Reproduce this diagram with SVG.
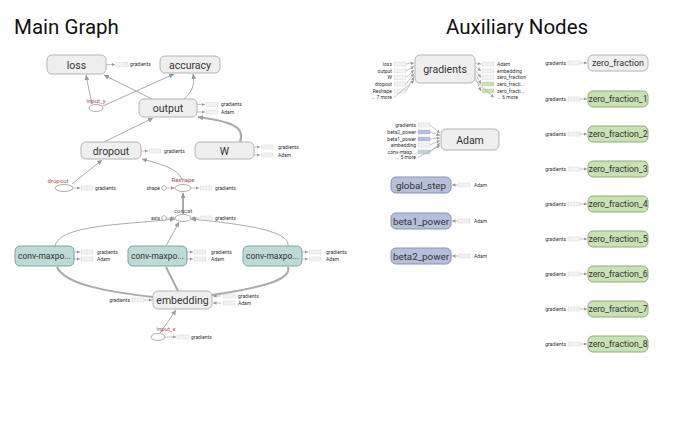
<svg xmlns="http://www.w3.org/2000/svg" width="697" height="448" viewBox="0 0 697 448">
<defs>
<marker id="a" markerWidth="6" markerHeight="6" refX="5" refY="3" orient="auto" markerUnits="userSpaceOnUse"><path d="M0,0.5 L5,3 L0,5.5 Z" fill="#999"/></marker>
<marker id="s" markerWidth="4" markerHeight="4" refX="3.5" refY="2" orient="auto" markerUnits="userSpaceOnUse"><path d="M0,0.3 L3.5,2 L0,3.7 Z" fill="#999"/></marker>
</defs>
<style>
text{font-family:Roboto,"Liberation Sans",sans-serif;}
.title{font-size:20.5px;fill:#111;}
.op{fill:#efefef;stroke:#b4b4b4;stroke-width:1;}
.teal{fill:#bcdad6;stroke:#7fa5a1;stroke-width:1;}
.blue{fill:#b6c0da;stroke:#8792b2;stroke-width:1;}
.green{fill:#c9e2b4;stroke:#90ad7d;stroke-width:1;}
.lbl{font-size:10.5px;fill:#333;text-anchor:middle;}
.lbla{font-size:9.8px;fill:#333;text-anchor:middle;}
.lblz{font-size:8.7px;fill:#333;text-anchor:middle;}
.lblc{font-size:8.5px;fill:#333;text-anchor:middle;}
.sm{font-size:5px;fill:#333;}
.sme{font-size:5px;fill:#333;text-anchor:end;}
.ph{font-size:6px;fill:#a0564c;text-anchor:middle;}
.stub{fill:#f2f2f2;stroke:#c8c8c8;stroke-width:0.6;stroke-dasharray:0.8,0.8;}
.sgreen{fill:#c9e2b4;stroke:#a5c290;stroke-width:0.6;stroke-dasharray:0.8,0.8;}
.sblue{fill:#b6c0da;stroke:#97a2c0;stroke-width:0.6;stroke-dasharray:0.8,0.8;}
.steal{fill:#bcdad6;stroke:#94bab5;stroke-width:0.6;stroke-dasharray:0.8,0.8;}
.se{stroke:#aaa;stroke-width:0.7;fill:none;}
.e{stroke:#aaa;stroke-width:1;fill:none;}
.et{stroke:#aaa;stroke-width:2;fill:none;}
.ell{fill:#fff;stroke:#999;stroke-width:0.8;}
</style>
<rect width="697" height="448" fill="#fff"/>
<text x="14" y="34" class="title">Main Graph</text>
<text x="446" y="34" class="title">Auxiliary Nodes</text>

<g id="edges">
<path class="e" d="M92,104 C90,95 88,85 86,75" marker-end="url(#a)"/>
<path class="e" d="M103,106 L174,74" marker-end="url(#a)"/>
<path class="e" d="M152,99 L104,75" marker-end="url(#a)"/>
<path class="e" d="M184,99 C192,92 195,85 193,74" marker-end="url(#a)"/>
<path class="e" d="M104,142 L153,118" marker-end="url(#a)"/>
<path class="et" d="M240,142 C245,128 235,122 198,117" marker-end="url(#a)"/>
<path class="e" d="M72,184 L102,160" marker-end="url(#a)"/>
<path class="e" d="M182,180 C178,168 160,164 142,159" marker-end="url(#a)"/>
<path class="et" d="M183,214 L183,193" marker-end="url(#a)"/>
<path class="e" d="M55,246 C60,225 120,225 175,219" marker-end="url(#a)"/>
<path class="e" d="M166,246 L179,222" marker-end="url(#a)"/>
<path class="e" d="M288,246 C290,230 240,224 191,219" marker-end="url(#a)"/>
<path class="et" d="M153,297 C110,292 65,285 57,267"/>
<path class="et" d="M178,291 L166,267"/>
<path class="et" d="M212,295 C260,288 292,280 288,267"/>
<path class="e" d="M160,333 L176,310" marker-end="url(#a)"/>
</g>

<g id="loss">
<rect x="47" y="55" width="59" height="19" rx="5" class="op"/><text x="76.5" y="68.5" class="lbl">loss</text>
<line x1="106" y1="64.5" x2="115" y2="64.5" class="se" marker-end="url(#s)"/><rect x="116" y="62.5" width="12" height="4" class="stub"/><text x="130" y="66.3" class="sm">gradients</text>
</g>
<g id="accuracy">
<rect x="160" y="56" width="60" height="17" rx="5" class="op"/><text x="190" y="68.5" class="lbl">accuracy</text>
</g>
<g id="input_y">
<ellipse cx="96" cy="108" rx="7" ry="3.5" class="ell"/><text x="96" y="103" class="ph">input_y</text>
</g>
<g id="output">
<rect x="139" y="99" width="58" height="18" rx="5" class="op"/><text x="168" y="112" class="lbl">output</text>
<line x1="197" y1="104.5" x2="205" y2="104.5" class="se" marker-end="url(#s)"/><rect x="206" y="102.5" width="12" height="4" class="stub"/><text x="221" y="106.3" class="sm">gradients</text>
<line x1="197" y1="112" x2="205" y2="112" class="se" marker-end="url(#s)"/><rect x="206" y="110" width="12" height="4" class="stub"/><text x="221" y="113.8" class="sm">Adam</text>
</g>
<g id="dropout">
<rect x="81" y="142" width="60" height="17" rx="5" class="op"/><text x="111" y="154.5" class="lbl">dropout</text>
<line x1="141" y1="151" x2="148" y2="151" class="se" marker-end="url(#s)"/><rect x="149" y="149" width="12" height="4" class="stub"/><text x="164" y="152.8" class="sm">gradients</text>
</g>
<g id="W">
<rect x="195" y="142" width="59" height="17" rx="5" class="op"/><text x="224.5" y="154.5" class="lbl">W</text>
<line x1="254" y1="147" x2="260" y2="147" class="se" marker-end="url(#s)"/><rect x="261" y="145" width="12" height="4" class="stub"/><text x="278" y="148.8" class="sm">gradients</text>
<line x1="254" y1="155" x2="260" y2="155" class="se" marker-end="url(#s)"/><rect x="261" y="153" width="12" height="4" class="stub"/><text x="278" y="156.8" class="sm">Adam</text>
</g>
<g id="dropout_keep">
<ellipse cx="64" cy="188" rx="9" ry="3.5" class="ell"/><text x="58" y="183" class="ph">dropout</text>
<line x1="73" y1="188" x2="80" y2="188" class="se" marker-end="url(#s)"/><rect x="81" y="186" width="12" height="4" class="stub"/><text x="95" y="189.8" class="sm">gradients</text>
</g>
<g id="Reshape">
<ellipse cx="183" cy="188" rx="8" ry="3.5" class="ell"/><text x="183" y="182" class="ph">Reshape</text>
<circle cx="164" cy="188" r="2.3" class="ell"/><text x="160" y="189.8" class="sme">shape</text>
<line x1="166.5" y1="188" x2="174.5" y2="188" class="se" marker-end="url(#s)"/>
<line x1="191" y1="188" x2="199" y2="188" class="se" marker-end="url(#s)"/><rect x="200" y="186" width="12" height="4" class="stub"/><text x="215" y="189.8" class="sm">gradients</text>
</g>
<g id="concat">
<ellipse cx="183" cy="218" rx="8" ry="3.5" class="ell"/><text x="183" y="212.5" class="ph" style="fill:#555">concat</text>
<circle cx="164" cy="218" r="2.3" class="ell"/><text x="160" y="219.8" class="sme">axis</text>
<line x1="166.5" y1="218" x2="174.5" y2="218" class="se" marker-end="url(#s)"/>
<line x1="199" y1="218" x2="191.5" y2="218" class="se" marker-end="url(#s)"/><rect x="200" y="216" width="12" height="4" class="stub"/><text x="215" y="219.8" class="sm">gradients</text>
</g>
<g id="conv1">
<rect x="15" y="246" width="59" height="20" rx="5" class="teal"/><text x="44.5" y="259" class="lblc">conv-maxpo...</text>
<line x1="74" y1="252" x2="80" y2="252" class="se" marker-end="url(#s)"/><rect x="81" y="250" width="12" height="4" class="stub"/><text x="97" y="253.8" class="sm">gradients</text>
<line x1="74" y1="259" x2="80" y2="259" class="se" marker-end="url(#s)"/><rect x="81" y="257" width="12" height="4" class="stub"/><text x="97" y="260.8" class="sm">Adam</text>
</g>
<g id="conv2">
<rect x="128" y="246" width="59" height="20" rx="5" class="teal"/><text x="157.5" y="259" class="lblc">conv-maxpo...</text>
<line x1="187" y1="252" x2="193" y2="252" class="se" marker-end="url(#s)"/><rect x="194" y="250" width="12" height="4" class="stub"/><text x="211" y="253.8" class="sm">gradients</text>
<line x1="187" y1="259" x2="193" y2="259" class="se" marker-end="url(#s)"/><rect x="194" y="257" width="12" height="4" class="stub"/><text x="211" y="260.8" class="sm">Adam</text>
</g>
<g id="conv3">
<rect x="243" y="246" width="59" height="20" rx="5" class="teal"/><text x="272.5" y="259" class="lblc">conv-maxpo...</text>
<line x1="302" y1="252" x2="308" y2="252" class="se" marker-end="url(#s)"/><rect x="309" y="250" width="12" height="4" class="stub"/><text x="326" y="253.8" class="sm">gradients</text>
<line x1="302" y1="259" x2="308" y2="259" class="se" marker-end="url(#s)"/><rect x="309" y="257" width="12" height="4" class="stub"/><text x="326" y="260.8" class="sm">Adam</text>
</g>
<g id="embedding">
<rect x="153" y="291" width="59" height="18" rx="5" class="op"/><text x="182.5" y="304" class="lbl">embedding</text>
<text x="130" y="301.8" class="sme">gradients</text><rect x="132" y="298" width="12" height="4" class="stub"/>
<line x1="144" y1="300" x2="152" y2="300" class="se" marker-end="url(#s)"/>
<line x1="221" y1="296" x2="213" y2="296" class="se" marker-end="url(#s)"/><rect x="223" y="294" width="12" height="4" class="stub"/><text x="238" y="297.8" class="sm">gradients</text>
<line x1="221" y1="303" x2="213" y2="303" class="se" marker-end="url(#s)"/><rect x="223" y="301" width="12" height="4" class="stub"/><text x="238" y="304.8" class="sm">Adam</text>
</g>
<g id="input_x">
<ellipse cx="158" cy="337" rx="7" ry="3.5" class="ell"/><text x="166" y="330.5" class="ph">input_x</text>
<line x1="165" y1="337" x2="176" y2="337" class="se" marker-end="url(#s)"/><rect x="177" y="335" width="12" height="4" class="stub"/><text x="191" y="338.8" class="sm">gradients</text>
</g>

<g id="gradients">
<rect x="415" y="55" width="60" height="28" rx="5" class="op"/><text x="445" y="73" class="lbl">gradients</text>
<text x="392" y="65.8" class="sme">loss</text><rect x="394" y="62" width="12" height="4" class="stub"/><line x1="406" y1="64" x2="414" y2="63" class="se" marker-end="url(#s)"/>
<text x="392" y="72.8" class="sme">output</text><rect x="394" y="69" width="12" height="4" class="stub"/><line x1="406" y1="71" x2="414" y2="66.5" class="se" marker-end="url(#s)"/>
<text x="392" y="79.3" class="sme">W</text><rect x="394" y="75.5" width="12" height="4" class="stub"/><line x1="406" y1="77.5" x2="414" y2="70" class="se" marker-end="url(#s)"/>
<text x="392" y="85.8" class="sme">dropout</text><rect x="394" y="82" width="12" height="4" class="stub"/><line x1="406" y1="84" x2="414" y2="73.5" class="se" marker-end="url(#s)"/>
<text x="392" y="92.8" class="sme">Reshape</text><rect x="394" y="89" width="12" height="4" class="stub"/><line x1="406" y1="91" x2="414" y2="77" class="se" marker-end="url(#s)"/>
<text x="392" y="99.3" class="sme">... 7 more</text><line x1="394" y1="97.5" x2="414" y2="80.5" class="se" marker-end="url(#s)"/>
<line x1="475" y1="63" x2="481" y2="64" class="se" marker-end="url(#s)"/><rect x="482" y="62" width="12" height="4" class="stub"/><text x="497" y="65.8" class="sm">Adam</text>
<line x1="475" y1="66.5" x2="481" y2="71" class="se" marker-end="url(#s)"/><rect x="482" y="69" width="12" height="4" class="stub"/><text x="497" y="72.8" class="sm">embedding</text>
<line x1="475" y1="70" x2="481" y2="77.5" class="se" marker-end="url(#s)"/><rect x="482" y="75.5" width="12" height="4" class="stub"/><text x="497" y="79.3" class="sm">zero_fraction</text>
<line x1="475" y1="73.5" x2="481" y2="84" class="se" marker-end="url(#s)"/><rect x="482" y="82" width="12" height="4" class="sgreen"/><text x="497" y="85.8" class="sm">zero_fracti...</text>
<line x1="475" y1="77" x2="481" y2="91" class="se" marker-end="url(#s)"/><rect x="482" y="89" width="12" height="4" class="sgreen"/><text x="497" y="92.8" class="sm">zero_fracti...</text>
<line x1="475" y1="80.5" x2="494" y2="97.5" class="se" marker-end="url(#s)"/><text x="497" y="99.3" class="sm">... 6 more</text>
</g>
<g id="Adam">
<rect x="441" y="129" width="58" height="21" rx="5" class="op"/><text x="470" y="143.5" class="lbl">Adam</text>
<text x="416" y="126.8" class="sme">gradients</text><rect x="418" y="123" width="12" height="4" class="stub"/><line x1="430" y1="125" x2="440" y2="133" class="se" marker-end="url(#s)"/>
<text x="416" y="133.8" class="sme">beta2_power</text><rect x="418" y="130" width="12" height="4" class="sblue"/><line x1="430" y1="132" x2="440" y2="135.5" class="se" marker-end="url(#s)"/>
<text x="416" y="140.8" class="sme">beta1_power</text><rect x="418" y="137" width="12" height="4" class="sblue"/><line x1="430" y1="139" x2="440" y2="138" class="se" marker-end="url(#s)"/>
<text x="416" y="146.8" class="sme">embedding</text><rect x="418" y="143" width="12" height="4" class="stub"/><line x1="430" y1="145" x2="440" y2="140.5" class="se" marker-end="url(#s)"/>
<text x="416" y="153.8" class="sme">conv-maxp...</text><rect x="418" y="150" width="12" height="4" class="steal"/><line x1="430" y1="152" x2="440" y2="143" class="se" marker-end="url(#s)"/>
<text x="416" y="159.3" class="sme">... 5 more</text><line x1="418" y1="157.5" x2="440" y2="145.5" class="se" marker-end="url(#s)"/>
</g>
<g id="global_step">
<rect x="391" y="177" width="60" height="16" rx="5" class="blue"/><text x="421" y="188.5" class="lbla">global_step</text>
<line x1="458" y1="185" x2="452" y2="185" class="se" marker-end="url(#s)"/><rect x="458" y="183" width="12" height="4" class="stub"/><text x="474" y="186.8" class="sm">Adam</text>
</g>
<g id="beta1_power">
<rect x="391" y="213" width="60" height="16" rx="5" class="blue"/><text x="421" y="224.5" class="lbla">beta1_power</text>
<line x1="458" y1="221" x2="452" y2="221" class="se" marker-end="url(#s)"/><rect x="458" y="219" width="12" height="4" class="stub"/><text x="474" y="222.8" class="sm">Adam</text>
</g>
<g id="beta2_power">
<rect x="391" y="248" width="60" height="16" rx="5" class="blue"/><text x="421" y="259.5" class="lbla">beta2_power</text>
<line x1="458" y1="256" x2="452" y2="256" class="se" marker-end="url(#s)"/><rect x="458" y="254" width="12" height="4" class="stub"/><text x="474" y="257.8" class="sm">Adam</text>
</g>

<g id="zero_fraction">
<rect x="588" y="55" width="60" height="16" rx="5" class="op"/><text x="618" y="66.2" class="lblz" style="font-size:9px">zero_fraction</text>
<text x="566" y="64.8" class="sme">gradients</text><rect x="568" y="61" width="12" height="4" class="stub"/><line x1="580" y1="63" x2="587" y2="63" class="se" marker-end="url(#s)"/>
</g>
<g id="zero_fraction_1">
<rect x="588" y="91" width="60" height="16" rx="5" class="green"/><text x="618" y="102.2" class="lblz">zero_fraction_1</text>
<text x="566" y="100.8" class="sme">gradients</text><rect x="568" y="97" width="12" height="4" class="stub"/><line x1="580" y1="99" x2="587" y2="99" class="se" marker-end="url(#s)"/>
</g>
<g id="zero_fraction_2">
<rect x="588" y="126" width="60" height="16" rx="5" class="green"/><text x="618" y="137.2" class="lblz">zero_fraction_2</text>
<text x="566" y="135.8" class="sme">gradients</text><rect x="568" y="132" width="12" height="4" class="stub"/><line x1="580" y1="134" x2="587" y2="134" class="se" marker-end="url(#s)"/>
</g>
<g id="zero_fraction_3">
<rect x="588" y="161" width="60" height="16" rx="5" class="green"/><text x="618" y="172.2" class="lblz">zero_fraction_3</text>
<text x="566" y="170.8" class="sme">gradients</text><rect x="568" y="167" width="12" height="4" class="stub"/><line x1="580" y1="169" x2="587" y2="169" class="se" marker-end="url(#s)"/>
</g>
<g id="zero_fraction_4">
<rect x="588" y="196" width="60" height="16" rx="5" class="green"/><text x="618" y="207.2" class="lblz">zero_fraction_4</text>
<text x="566" y="205.8" class="sme">gradients</text><rect x="568" y="202" width="12" height="4" class="stub"/><line x1="580" y1="204" x2="587" y2="204" class="se" marker-end="url(#s)"/>
</g>
<g id="zero_fraction_5">
<rect x="588" y="231" width="60" height="16" rx="5" class="green"/><text x="618" y="242.2" class="lblz">zero_fraction_5</text>
<text x="566" y="240.8" class="sme">gradients</text><rect x="568" y="237" width="12" height="4" class="stub"/><line x1="580" y1="239" x2="587" y2="239" class="se" marker-end="url(#s)"/>
</g>
<g id="zero_fraction_6">
<rect x="588" y="266" width="60" height="16" rx="5" class="green"/><text x="618" y="277.2" class="lblz">zero_fraction_6</text>
<text x="566" y="275.8" class="sme">gradients</text><rect x="568" y="272" width="12" height="4" class="stub"/><line x1="580" y1="274" x2="587" y2="274" class="se" marker-end="url(#s)"/>
</g>
<g id="zero_fraction_7">
<rect x="588" y="301" width="60" height="16" rx="5" class="green"/><text x="618" y="312.2" class="lblz">zero_fraction_7</text>
<text x="566" y="310.8" class="sme">gradients</text><rect x="568" y="307" width="12" height="4" class="stub"/><line x1="580" y1="309" x2="587" y2="309" class="se" marker-end="url(#s)"/>
</g>
<g id="zero_fraction_8">
<rect x="588" y="336" width="60" height="16" rx="5" class="green"/><text x="618" y="347.2" class="lblz">zero_fraction_8</text>
<text x="566" y="345.8" class="sme">gradients</text><rect x="568" y="342" width="12" height="4" class="stub"/><line x1="580" y1="344" x2="587" y2="344" class="se" marker-end="url(#s)"/>
</g>
</svg>
